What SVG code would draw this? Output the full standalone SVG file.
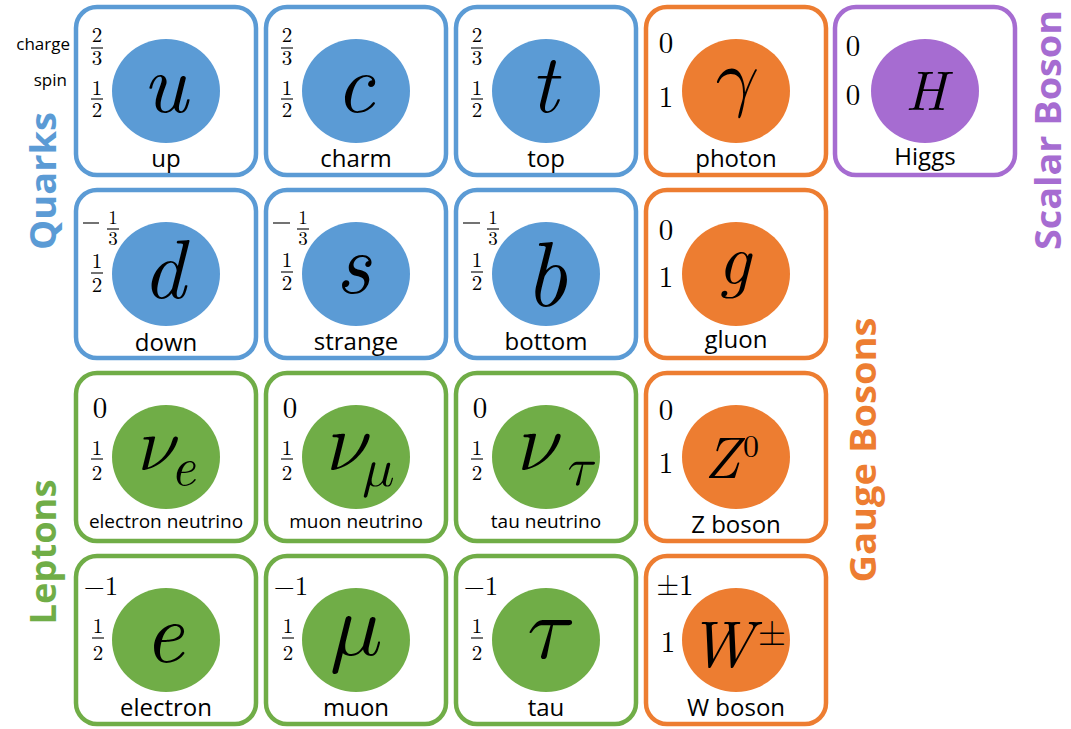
<svg xmlns="http://www.w3.org/2000/svg" width="1071" height="729" viewBox="0 0 1071 729">
<style>
.card{fill:#fff;stroke-width:4.5}
.qc{stroke:#5B9BD5}.lc{stroke:#70AD47}.gc{stroke:#ED7D31}.hc{stroke:#A66CD1}
.qf{fill:#5B9BD5}.lf{fill:#70AD47}.gf{fill:#ED7D31}.hf{fill:#A66CD1}
.lab{font-family:"Open Sans","Liberation Sans",sans-serif;font-size:24px;fill:#000;text-anchor:middle}
.lab2{font-family:"Open Sans","Liberation Sans",sans-serif;font-size:19px;fill:#000;text-anchor:middle}
.sym,.num,.big{font-family:"Latin Modern Roman","CMU Serif","Latin Modern Math","Liberation Serif","Nimbus Roman","Times New Roman",Times,"DejaVu Serif","Noto Serif",FreeSerif,Georgia,serif;fill:#000;text-anchor:middle}
.sym{font-style:italic}
.num{font-size:21px}
.big{font-size:29px}
.bar{stroke:#000;stroke-width:1.1}
.side{font-family:"Open Sans","Liberation Sans",sans-serif;font-weight:bold;font-size:36px;text-anchor:middle}
.key{font-family:"Open Sans","Liberation Sans",sans-serif;font-size:17px;fill:#000;text-anchor:end}
</style>
<defs>
<ellipse id="disc" cx="90" cy="84" rx="54" ry="52"/>
</defs>

<!-- side labels -->
<g id="side-labels">
<text class="side" fill="#5B9BD5" transform="translate(56,181) rotate(-90)" textLength="138" lengthAdjust="spacingAndGlyphs">Quarks</text>
<text class="side" fill="#70AD47" transform="translate(56,552) rotate(-90)" textLength="145" lengthAdjust="spacingAndGlyphs">Leptons</text>
<text class="side" fill="#ED7D31" transform="translate(876,450) rotate(-90)" textLength="265" lengthAdjust="spacingAndGlyphs">Gauge Bosons</text>
<text class="side" fill="#A66CD1" transform="translate(1061,130) rotate(-90)" textLength="240" lengthAdjust="spacingAndGlyphs">Scalar Boson</text>
<text class="key" x="70" y="50">charge</text>
<text class="key" x="67" y="86">spin</text>
</g>

<!-- Row 1 -->
<g id="up" transform="translate(76,7)">
<rect class="card qc" width="180" height="168" rx="21"/>
<use href="#disc" class="qf"/>
<text class="num" x="21" y="35">2</text><line class="bar" x1="15" y1="41" x2="27" y2="41"/><text class="num" x="21" y="58">3</text>
<text class="num" x="21" y="88">1</text><line class="bar" x1="15" y1="92" x2="27" y2="92"/><text class="num" x="21" y="110">2</text>
<text class="sym" x="89" y="105" font-size="84">u</text>
<text class="lab" x="90" y="160">up</text>
</g>
<g id="charm" transform="translate(266,7)">
<rect class="card qc" width="180" height="168" rx="21"/>
<use href="#disc" class="qf"/>
<text class="num" x="21" y="35">2</text><line class="bar" x1="15" y1="41" x2="27" y2="41"/><text class="num" x="21" y="58">3</text>
<text class="num" x="21" y="88">1</text><line class="bar" x1="15" y1="92" x2="27" y2="92"/><text class="num" x="21" y="110">2</text>
<text class="sym" x="89" y="105" font-size="84">c</text>
<text class="lab" x="90" y="160">charm</text>
</g>
<g id="top" transform="translate(456,7)">
<rect class="card qc" width="180" height="168" rx="21"/>
<use href="#disc" class="qf"/>
<text class="num" x="21" y="35">2</text><line class="bar" x1="15" y1="41" x2="27" y2="41"/><text class="num" x="21" y="58">3</text>
<text class="num" x="21" y="88">1</text><line class="bar" x1="15" y1="92" x2="27" y2="92"/><text class="num" x="21" y="110">2</text>
<text class="sym" x="88" y="105" font-size="84">t</text>
<text class="lab" x="90" y="160">top</text>
</g>
<g id="photon" transform="translate(646,7)">
<rect class="card gc" width="180" height="168" rx="21"/>
<use href="#disc" class="gf"/>
<text class="big" x="20" y="46">0</text>
<text class="big" x="20" y="100">1</text>
<text class="sym" x="86" y="95" font-size="76">γ</text>
<text class="lab" x="90" y="160">photon</text>
</g>
<g id="higgs" transform="translate(835,7)">
<rect class="card hc" width="180" height="168" rx="21"/>
<use href="#disc" class="hf"/>
<text class="big" x="18" y="49">0</text>
<text class="big" x="18" y="98">0</text>
<text class="sym" x="91" y="103" font-size="56">H</text>
<text class="lab" x="90" y="158" font-size="22">Higgs</text>
</g>

<!-- Row 2 -->
<g id="down" transform="translate(76,190)">
<rect class="card qc" width="180" height="168" rx="21"/>
<use href="#disc" class="qf"/>
<line class="bar" x1="7" y1="33" x2="23" y2="33"/>
<text class="num" x="37" y="34" style="font-size:19px">1</text><line class="bar" x1="31" y1="39" x2="43" y2="39"/><text class="num" x="37" y="55" style="font-size:19px">3</text>
<text class="num" x="21" y="78">1</text><line class="bar" x1="15" y1="83" x2="27" y2="83"/><text class="num" x="21" y="102">2</text>
<text class="sym" x="88" y="108" font-size="84">d</text>
<text class="lab" x="90" y="161">down</text>
</g>
<g id="strange" transform="translate(266,190)">
<rect class="card qc" width="180" height="168" rx="21"/>
<use href="#disc" class="qf"/>
<line class="bar" x1="7" y1="33" x2="24" y2="33"/>
<text class="num" x="37" y="34" style="font-size:19px">1</text><line class="bar" x1="31" y1="39" x2="43" y2="39"/><text class="num" x="37" y="55" style="font-size:19px">3</text>
<text class="num" x="21" y="77">1</text><line class="bar" x1="15" y1="82" x2="27" y2="82"/><text class="num" x="21" y="100">2</text>
<text class="sym" x="87" y="103" font-size="86">s</text>
<text class="lab" x="90" y="160">strange</text>
</g>
<g id="bottom" transform="translate(456,190)">
<rect class="card qc" width="180" height="168" rx="21"/>
<use href="#disc" class="qf"/>
<line class="bar" x1="7" y1="33" x2="24" y2="33"/>
<text class="num" x="37" y="34" style="font-size:19px">1</text><line class="bar" x1="31" y1="39" x2="43" y2="39"/><text class="num" x="37" y="55" style="font-size:19px">3</text>
<text class="num" x="21" y="77">1</text><line class="bar" x1="15" y1="82" x2="27" y2="82"/><text class="num" x="21" y="100">2</text>
<text class="sym" x="90" y="116" font-size="92">b</text>
<text class="lab" x="90" y="160">bottom</text>
</g>
<g id="gluon" transform="translate(646,190)">
<rect class="card gc" width="180" height="168" rx="21"/>
<use href="#disc" class="gf"/>
<text class="big" x="20" y="50">0</text>
<text class="big" x="20" y="97">1</text>
<text class="sym" x="88" y="94" font-size="72">g</text>
<text class="lab" x="90" y="158">gluon</text>
</g>

<!-- Row 3 -->
<g id="electron-neutrino" transform="translate(76,373)">
<rect class="card lc" width="180" height="168" rx="21"/>
<use href="#disc" class="lf"/>
<text class="big" x="24" y="45">0</text>
<text class="num" x="21" y="82">1</text><line class="bar" x1="15" y1="86" x2="27" y2="86"/><text class="num" x="21" y="107">2</text>
<text class="sym" x="80" y="97" font-size="76">ν</text>
<text class="sym" x="107" y="112" font-size="54">e</text>
<text class="lab2" x="90" y="155">electron neutrino</text>
</g>
<g id="muon-neutrino" transform="translate(266,373)">
<rect class="card lc" width="180" height="168" rx="21"/>
<use href="#disc" class="lf"/>
<text class="big" x="24" y="45">0</text>
<text class="num" x="21" y="82">1</text><line class="bar" x1="15" y1="86" x2="27" y2="86"/><text class="num" x="21" y="107">2</text>
<text class="sym" x="80" y="97" font-size="82">ν</text>
<text class="sym" x="111" y="113" font-size="54">μ</text>
<text class="lab2" x="90" y="155">muon neutrino</text>
</g>
<g id="tau-neutrino" transform="translate(456,373)">
<rect class="card lc" width="180" height="168" rx="21"/>
<use href="#disc" class="lf"/>
<text class="big" x="24" y="45">0</text>
<text class="num" x="21" y="82">1</text><line class="bar" x1="15" y1="86" x2="27" y2="86"/><text class="num" x="21" y="107">2</text>
<text class="sym" x="81" y="97" font-size="82">ν</text>
<text class="sym" x="123" y="112" font-size="54">τ</text>
<text class="lab2" x="90" y="155">tau neutrino</text>
</g>
<g id="z-boson" transform="translate(646,373)">
<rect class="card gc" width="180" height="168" rx="21"/>
<use href="#disc" class="gf"/>
<text class="big" x="20" y="47">0</text>
<text class="big" x="20" y="100">1</text>
<text class="sym" x="76" y="105" font-size="58">Z</text>
<text class="num" x="105" y="84" style="font-size:32px">0</text>
<text class="lab" x="90" y="160">Z boson</text>
</g>

<!-- Row 4 -->
<g id="electron" transform="translate(76,556)">
<rect class="card lc" width="180" height="168" rx="21"/>
<use href="#disc" class="lf"/>
<text class="big" x="25" y="39" style="font-size:27px">−1</text>
<text class="num" x="22" y="77">1</text><line class="bar" x1="16" y1="82" x2="28" y2="82"/><text class="num" x="22" y="104">2</text>
<text class="sym" x="88" y="106" font-size="86">e</text>
<text class="lab" x="90" y="160">electron</text>
</g>
<g id="muon" transform="translate(266,556)">
<rect class="card lc" width="180" height="168" rx="21"/>
<use href="#disc" class="lf"/>
<text class="big" x="25" y="39" style="font-size:27px">−1</text>
<text class="num" x="22" y="77">1</text><line class="bar" x1="16" y1="82" x2="28" y2="82"/><text class="num" x="22" y="104">2</text>
<text class="sym" x="88" y="99" font-size="88">μ</text>
<text class="lab" x="90" y="160">muon</text>
</g>
<g id="tau" transform="translate(456,556)">
<rect class="card lc" width="180" height="168" rx="21"/>
<use href="#disc" class="lf"/>
<text class="big" x="25" y="39" style="font-size:27px">−1</text>
<text class="num" x="21" y="77">1</text><line class="bar" x1="15" y1="82" x2="27" y2="82"/><text class="num" x="21" y="104">2</text>
<text class="sym" x="90" y="102" font-size="88">τ</text>
<text class="lab" x="90" y="160">tau</text>
</g>
<g id="w-boson" transform="translate(646,556)">
<rect class="card gc" width="180" height="168" rx="21"/>
<use href="#disc" class="gf"/>
<text class="big" x="29" y="39">±1</text>
<text class="big" x="22" y="96">1</text>
<text class="sym" x="75" y="111" font-size="66">W</text>
<text class="num" x="126" y="89" style="font-size:36px">±</text>
<text class="lab" x="90" y="160">W boson</text>
</g>
</svg>
